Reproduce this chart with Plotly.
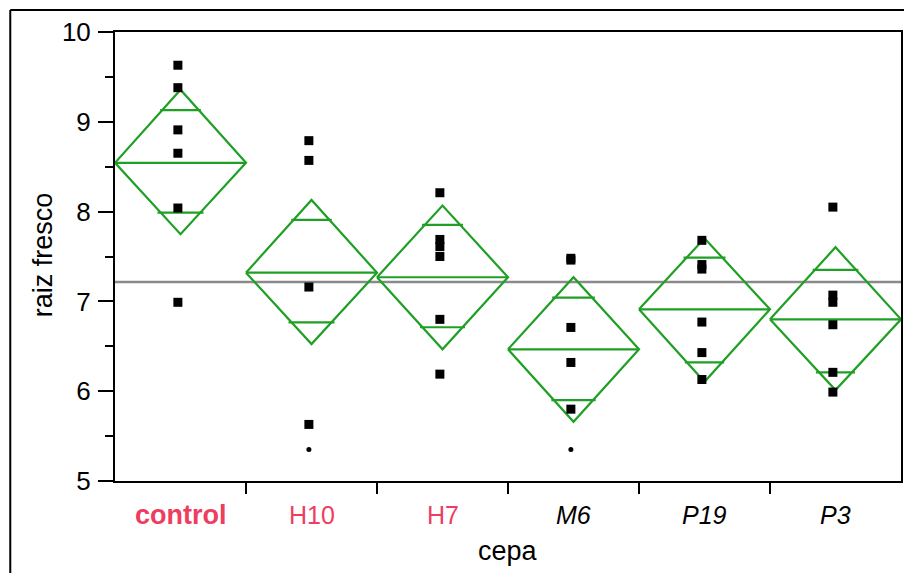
import plotly.graph_objects as go

# ---- data ----
categories = ["control", "H10", "H7", "M6", "P19", "P3"]
label_colors = ["#EE3D5F", "#EE3D5F", "#EE3D5F", "black", "black", "black"]
label_styles = ["bold", "normal", "normal", "italic", "italic", "italic"]

points_control = [9.63, 9.38, 8.91, 8.65, 8.04, 6.99]
points_H10 = [8.79, 8.57, 7.16, 5.63]
points_H7 = [8.21, 7.69, 7.61, 7.50, 6.80, 6.19]
points_M6 = [7.48, 7.46, 6.71, 6.32, 5.80]
points_P19 = [7.68, 7.41, 7.36, 6.77, 6.43, 6.13]
points_P3 = [8.05, 7.07, 6.99, 6.74, 6.21, 5.99]
groups_points = [points_control, points_H10, points_H7, points_M6, points_P19, points_P3]

small_dot_groups = ["H10", "M6"]
small_dot_values = [5.35, 5.35]

group_means = [8.543, 7.320, 7.269, 6.466, 6.912, 6.800]
ci_upper = [9.357, 8.130, 8.067, 7.269, 7.703, 7.603]
ci_lower = [7.748, 6.525, 6.466, 5.659, 6.105, 6.012]
overlap_upper = [9.130, 7.907, 7.852, 7.041, 7.487, 7.350]
overlap_lower = [7.989, 6.767, 6.712, 5.901, 6.321, 6.210]

grand_mean = 7.216
y_ticks = [5, 6, 7, 8, 9, 10]

GREEN = "#1f9f24"
FONT = "Liberation Sans, Arial, sans-serif"

fig = go.Figure()

# grand mean line
fig.add_trace(go.Scatter(x=[-0.5, len(categories) - 0.5], y=[grand_mean, grand_mean],
                         mode="lines", line=dict(color="#8a8a8a", width=2.5),
                         hoverinfo="skip", showlegend=False))

# means diamonds
for i, cat in enumerate(categories):
    m, hi, lo = group_means[i], ci_upper[i], ci_lower[i]
    fig.add_trace(go.Scatter(x=[i - 0.5, i, i + 0.5, i, i - 0.5],
                             y=[m, hi, m, lo, m], mode="lines",
                             line=dict(color=GREEN, width=2.2), hoverinfo="skip",
                             showlegend=False))
    fig.add_trace(go.Scatter(x=[i - 0.5, i + 0.5], y=[m, m], mode="lines",
                             line=dict(color=GREEN, width=2.2), hoverinfo="skip",
                             showlegend=False))
    for ov in (overlap_upper[i], overlap_lower[i]):
        half = 0.5 * (1 - abs(ov - m) / ((hi - lo) / 2)) + 0.02
        fig.add_trace(go.Scatter(x=[i - half, i + half], y=[ov, ov], mode="lines",
                                 line=dict(color=GREEN, width=2.2), hoverinfo="skip",
                                 showlegend=False))

# points
xs, ys = [], []
for i, pts in enumerate(groups_points):
    xs += [i - 0.02] * len(pts)
    ys += pts
fig.add_trace(go.Scatter(x=xs, y=ys, mode="markers",
                         marker=dict(symbol="square", size=9, color="black"),
                         showlegend=False))
fig.add_trace(go.Scatter(x=[categories.index(c) - 0.02 for c in small_dot_groups],
                         y=small_dot_values, mode="markers",
                         marker=dict(symbol="circle", size=5, color="black"),
                         showlegend=False))

W, H = 904, 573
L, T = 115, 32
R = W - 903
B = H - 481
pw, ph = W - L - R, H - T - B

def px_x(px):  # window pixel -> paper
    return (px - L) / pw

def px_y(py):
    return (H - B - py) / ph

annotations = []
for i, cat in enumerate(categories):
    annotations.append(dict(
        x=i, xref="x", y=px_y(515), yref="paper", text=cat, showarrow=False,
        xanchor="center", yanchor="middle",
        font=dict(family=FONT, size=27 if label_styles[i] == "bold" else 25,
                  color=label_colors[i],
                  weight="bold" if label_styles[i] == "bold" else "normal",
                  style="italic" if label_styles[i] == "italic" else "normal")))
annotations.append(dict(x=0.5, xref="paper", y=px_y(551), yref="paper", text="cepa",
                        showarrow=False, xanchor="center", yanchor="middle",
                        font=dict(family=FONT, size=27, color="black")))
annotations.append(dict(x=px_x(43), xref="paper", y=px_y(255), yref="paper",
                        text="raiz fresco", textangle=-90, showarrow=False,
                        xanchor="center", yanchor="middle",
                        font=dict(family=FONT, size=27, color="black")))

shapes = [
    dict(type="line", xref="paper", yref="paper", x0=px_x(10), x1=px_x(930),
         y0=px_y(10), y1=px_y(10), line=dict(color="black", width=2)),
    dict(type="line", xref="paper", yref="paper", x0=px_x(10), x1=px_x(10),
         y0=px_y(10), y1=px_y(600), line=dict(color="black", width=2)),
]

fig.update_layout(
    width=W, height=H, margin=dict(l=L, r=R, t=T, b=B),
    paper_bgcolor="white", plot_bgcolor="white",
    showlegend=False, annotations=annotations, shapes=shapes,
    font=dict(family=FONT, size=25, color="black"),
    xaxis=dict(range=[-0.5, len(categories) - 0.5], showgrid=False, zeroline=False,
               showline=True, linecolor="black", linewidth=2, mirror=True,
               tickmode="array", tickvals=[i + 0.5 for i in range(len(categories) - 1)],
               ticks="outside", ticklen=11, tickwidth=2, tickcolor="black",
               showticklabels=False),
    yaxis=dict(range=[5, 10], showgrid=False, zeroline=False,
               showline=True, linecolor="black", linewidth=2, mirror=True,
               tickmode="array", tickvals=y_ticks, ticks="outside", ticklen=15,
               tickwidth=2, tickcolor="black", ticklabelstandoff=2,
               tickfont=dict(family=FONT, size=26, color="black"),
               minor=dict(dtick=0.5, ticks="outside", ticklen=8, tickwidth=2,
                          tickcolor="black", showgrid=False)),
)

fig.write_html("out.html", config={"displayModeBar": False},
               post_script="document.body.style.margin='0';"
                           "document.body.style.overflow='hidden';")
